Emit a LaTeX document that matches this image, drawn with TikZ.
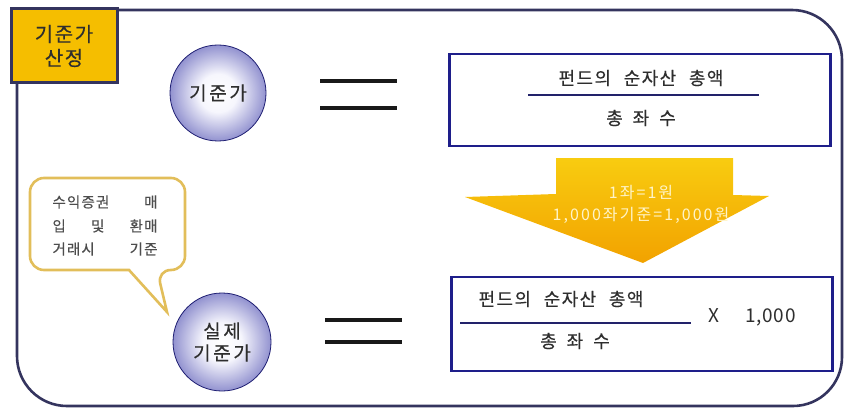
\documentclass[tikz,border=0pt]{standalone}
\usepackage{fontspec}
\setmainfont{Noto Sans CJK KR}
\newfontfamily\krsp{Noto Sans CJK KR}[LetterSpace=8,FakeBold=0.3]
\newfontfamily\krwide{Noto Sans CJK KR}[LetterSpace=14,FakeBold=0.3]
\newfontfamily\krnum{Noto Sans CJK KR}[LetterSpace=13]
\newfontfamily\krx{Noto Sans CJK KR}[LetterSpace=4]
\definecolor{frameC}{HTML}{34345E}
\definecolor{goldC}{HTML}{F5BE00}
\definecolor{boxC}{HTML}{1E1E8A}
\definecolor{fracC}{HTML}{22226A}
\definecolor{orbEdge}{HTML}{1E1E72}
\definecolor{orbMid}{HTML}{5656B4}
\definecolor{orbIn}{HTML}{F6F6FD}
\definecolor{callC}{HTML}{E2BE5A}
\definecolor{txtC}{HTML}{2E2E2E}
\definecolor{arrTop}{HTML}{F8CC10}
\definecolor{arrBot}{HTML}{F2A200}
\definecolor{arrTxt}{HTML}{FFF4C8}
\pgfdeclareradialshading{orb}{\pgfpoint{0bp}{0bp}}{color(0bp)=(white); color(10bp)=(orbIn); color(34bp)=(orbMid); color(48bp)=(orbEdge); color(50bp)=(orbEdge)}
\tikzset{
  orbnode/.style={circle, minimum size=96pt, inner sep=0pt, shading=orb, draw=orbEdge, line width=0.8pt, text=txtC, font=\krwide\fontsize{19}{22}\selectfont, align=center},
  eqline/.style={line width=3.6pt, draw=black!90},
  fbox/.style={draw=boxC, line width=2.2pt, fill=white},
  ftxt/.style={text=txtC, font=\krsp\fontsize{18}{20}\selectfont, inner sep=0pt},
  fline/.style={draw=fracC, line width=2pt},
  calltxt/.style={text=txtC!85!white, font=\krsp\fontsize{14.5}{17}\selectfont, inner sep=0pt, text width=105pt, align=left},
}
\newcommand{\wg}{\hspace{0.7em}}
\newcommand{\cg}{\hspace{0.55em}}
\begin{document}
\begin{tikzpicture}[x=1pt,y=-1pt]
\useasboundingbox (0,0) rectangle (845,409);
% outer frame
\draw[frameC, line width=2.6pt] (17,10) -- (792,10) arc[start angle=-90, end angle=0, radius=50] -- (842,357) arc[start angle=0, end angle=90, radius=49] -- (67,406) arc[start angle=90, end angle=180, radius=50] -- cycle;
% label box
\node[draw=frameC, line width=3pt, fill=goldC, minimum width=106pt, minimum height=74pt, inner sep=0pt, text=txtC, font=\krsp\fontsize{20}{24}\selectfont, align=center] (lab) at (64,46) {기준가\\산정};
% top orb
\node[orbnode] (orb1) at (218,93) {기준가};
% top equals
\coordinate (e1a) at (320,81); \coordinate (e1b) at (397,81);
\coordinate (e2a) at (320,108); \coordinate (e2b) at (397,108);
\draw[eqline] (e1a) -- (e1b);
\draw[eqline] (e2a) -- (e2b);
% top formula box
\node[fbox, minimum width=381pt, minimum height=92pt, inner sep=0pt] (box1) at (640,100) {};
\node[ftxt] (num1) at (641,78) {펀드의\wg 순자산\wg 총액};
\node[ftxt] (den1) at (641,118) {총\cg 좌\cg 수};
\coordinate (f1a) at (528,95); \coordinate (f1b) at (759,95);
\draw[fline] (f1a) -- (f1b);
% arrow
\shade[top color=arrTop, bottom color=arrBot] (556,158) -- (733,158) -- (733,195) -- (769,196) -- (643,263) -- (465,197) -- (556,194) -- cycle;
\node[text=arrTxt, font=\krnum\fontsize{16}{22}\selectfont, align=center, inner sep=0pt] (arrt) at (641,204) {1좌=1원\\1,000좌기준=1,000원};
% bottom formula box
\node[fbox, minimum width=381pt, minimum height=94pt, inner sep=0pt] (box2) at (642,324) {};
\node[ftxt] (num2) at (561,299) {펀드의\wg 순자산\wg 총액};
\node[ftxt] (den2) at (575,341) {총\cg 좌\cg 수};
\coordinate (f2a) at (460,323); \coordinate (f2b) at (691,323);
\draw[fline] (f2a) -- (f2b);
\node[text=txtC, font=\krx\fontsize{19}{22}\selectfont, inner sep=0pt, anchor=west] (mult) at (708,317) {X\hspace{26pt}1,000};
% bottom orb
\node[orbnode, minimum size=98pt] (orb2) at (222,342) {실제\\기준가};
% bottom equals
\coordinate (g1a) at (325,320); \coordinate (g1b) at (402,320);
\coordinate (g2a) at (325,342); \coordinate (g2b) at (402,342);
\draw[eqline] (g1a) -- (g1b);
\draw[eqline] (g2a) -- (g2b);
% callout
\coordinate (tip) at (167,312);
\draw[draw=callC, line width=2.6pt, fill=white, rounded corners=14pt] (100,178) -- (185,178) -- (185,270) -- (157,270) [sharp corners] -- (tip) -- (129,270) [rounded corners=14pt] -- (30,270) -- (30,178) -- cycle;
\node[calltxt] (c1) at (105,202) {수익증권\hfill 매};
\node[calltxt] (c2) at (105,226) {입\hfill 및\hfill 환매};
\node[calltxt] (c3) at (105,249) {거래시\hfill 기준};
\end{tikzpicture}
\end{document}
